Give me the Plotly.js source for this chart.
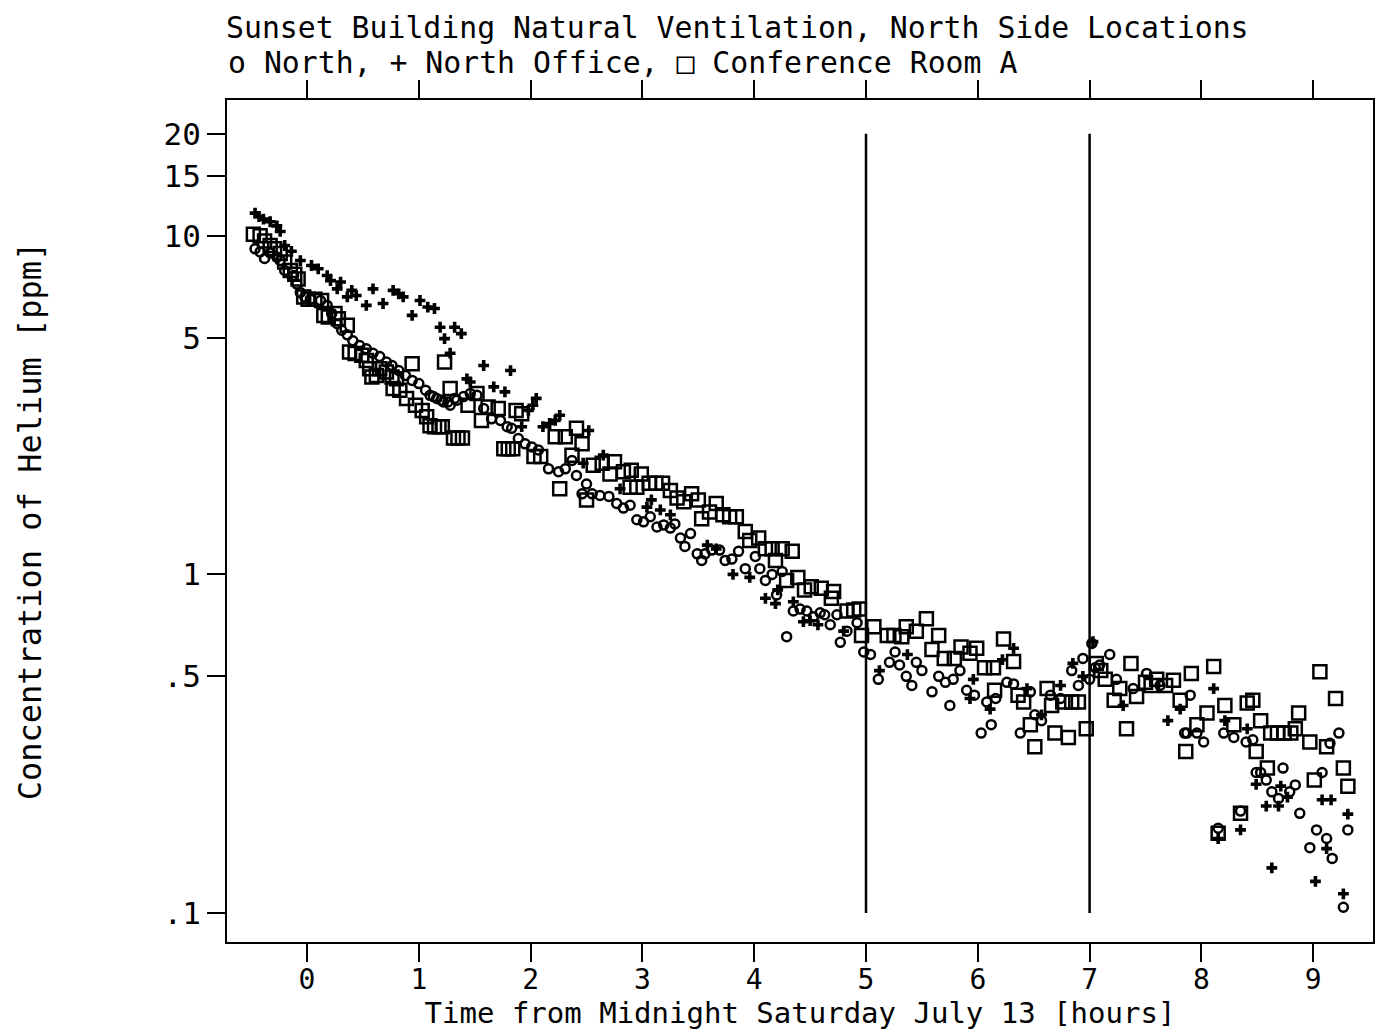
<!DOCTYPE html>
<html>
<head>
<meta charset="utf-8">
<script src="https://cdn.plot.ly/plotly-3.0.1.min.js"></script>
<style>html,body{margin:0;padding:0;background:#fff;}#chart{width:1375px;height:1035px;}</style>
</head>
<body>
<div id="chart"></div>
<script>
// ---- Data (hours from midnight, helium concentration in ppm) ----
const northTime = [-0.465,-0.42,-0.38,-0.33,-0.27,-0.24,-0.20,-0.12,-0.09,-0.06,-0.02,0.03,0.12,0.18,0.22,0.27,0.31,0.36,0.41,0.47,0.53,0.59,0.65,0.71,0.76,0.82,0.88,0.94,1.00,1.06,1.10,1.13,1.16,1.20,1.22,1.26,1.28,1.32,1.34,1.40,1.46,1.52,1.58,1.65,1.73,1.79,1.83,1.89,1.95,2.01,2.07,2.16,2.25,2.31,2.37,2.41,2.46,2.50,2.55,2.62,2.70,2.77,2.83,2.89,2.95,3.01,3.07,3.13,3.19,3.25,3.29,3.34,3.38,3.43,3.49,3.53,3.56,3.62,3.69,3.74,3.80,3.86,3.92,4.01,4.05,4.10,4.16,4.20,4.25,4.29,4.35,4.41,4.47,4.53,4.59,4.63,4.68,4.74,4.77,4.83,4.92,4.98,5.04,5.11,5.21,5.26,5.30,5.36,5.41,5.45,5.50,5.59,5.65,5.71,5.75,5.78,5.84,5.90,5.97,6.03,6.08,6.12,6.16,6.26,6.32,6.38,6.47,6.51,6.57,6.65,6.74,6.84,6.90,6.94,7.00,7.02,7.05,7.09,7.18,7.24,7.39,7.51,7.63,7.85,7.87,7.90,7.96,8.02,8.15,8.20,8.29,8.35,8.40,8.46,8.49,8.53,8.58,8.63,8.69,8.73,8.79,8.84,8.88,8.97,9.03,9.08,9.12,9.15,9.17,9.23,9.27,9.31];
const northValue = [9.15,8.96,8.57,8.9,8.65,8.45,7.9,7.63,7.2,6.8,6.6,6.5,6.44,6.23,5.9,5.5,5.26,5.1,4.9,4.74,4.64,4.5,4.4,4.24,4.14,4.0,3.87,3.74,3.66,3.5,3.38,3.35,3.31,3.27,3.23,3.23,3.16,3.31,3.27,3.35,3.42,3.38,3.09,2.88,2.85,2.73,2.70,2.52,2.43,2.38,2.33,2.05,2.01,2.05,2.17,1.96,1.73,1.85,1.73,1.71,1.70,1.62,1.57,1.60,1.45,1.43,1.48,1.38,1.40,1.37,1.41,1.28,1.21,1.32,1.15,1.10,1.15,1.18,1.18,1.10,1.11,1.17,1.04,1.13,1.04,0.96,1.0,0.87,1.02,0.655,0.78,0.79,0.78,0.75,0.77,0.76,0.71,0.76,0.63,0.68,0.72,0.59,0.58,0.49,0.55,0.59,0.54,0.50,0.47,0.55,0.52,0.45,0.50,0.48,0.41,0.49,0.52,0.455,0.44,0.34,0.42,0.36,0.43,0.48,0.475,0.34,0.45,0.385,0.37,0.44,0.43,0.52,0.47,0.565,0.49,0.625,0.53,0.54,0.58,0.49,0.46,0.51,0.47,0.34,0.34,0.44,0.34,0.32,0.178,0.34,0.33,0.20,0.32,0.325,0.26,0.26,0.247,0.228,0.218,0.268,0.228,0.239,0.197,0.156,0.176,0.26,0.166,0.317,0.145,0.34,0.104,0.176];

const officeTime = [-0.465,-0.43,-0.39,-0.33,-0.27,-0.24,-0.20,-0.14,-0.06,0.04,0.10,0.18,0.21,0.27,0.30,0.36,0.40,0.44,0.53,0.59,0.68,0.77,0.82,0.86,0.94,1.01,1.08,1.14,1.19,1.23,1.28,1.32,1.38,1.43,1.46,1.58,1.67,1.77,1.82,1.92,1.98,2.02,2.05,2.11,2.17,2.22,2.26,2.47,2.52,2.65,2.80,3.04,3.08,3.16,3.25,3.58,3.66,3.81,3.96,4.10,4.19,4.21,4.35,4.44,4.50,4.57,4.80,5.12,5.37,5.93,5.96,6.11,6.22,6.32,6.44,6.57,6.74,6.85,6.94,7.03,7.30,7.70,7.81,8.11,8.15,8.21,8.35,8.41,8.49,8.58,8.63,8.69,8.71,8.77,9.02,9.08,9.12,9.16,9.27,9.31];
const officeValue = [11.67,11.4,11.2,11.0,10.7,10.3,9.36,9.0,8.45,8.17,7.99,7.63,7.37,6.97,7.3,6.6,6.9,6.66,6.23,6.97,6.31,6.9,6.74,6.6,5.82,6.44,6.16,6.1,5.37,4.97,4.5,5.37,5.14,3.78,3.7,4.14,3.58,3.46,4.0,2.73,3.05,3.16,3.31,2.73,2.79,2.85,2.95,2.13,2.66,2.25,1.79,1.58,1.66,1.55,1.50,1.22,1.19,1.0,0.98,0.85,0.82,0.90,0.83,0.725,0.73,0.71,0.68,0.52,0.58,0.43,0.49,0.40,0.56,0.605,0.46,0.385,0.47,0.546,0.50,0.633,0.41,0.37,0.40,0.46,0.166,0.37,0.176,0.35,0.24,0.207,0.136,0.207,0.237,0.22,0.124,0.216,0.155,0.216,0.114,0.196];

const confTime = [-0.48,-0.42,-0.38,-0.33,-0.29,-0.24,-0.20,-0.15,-0.11,-0.08,-0.03,0.01,0.07,0.13,0.15,0.19,0.25,0.28,0.36,0.38,0.43,0.49,0.53,0.56,0.58,0.62,0.65,0.71,0.76,0.77,0.80,0.83,0.89,0.94,0.97,1.03,1.07,1.10,1.14,1.18,1.21,1.23,1.28,1.31,1.35,1.39,1.44,1.52,1.56,1.62,1.71,1.76,1.80,1.84,1.87,1.92,2.03,2.09,2.22,2.26,2.31,2.37,2.41,2.46,2.50,2.56,2.64,2.71,2.75,2.83,2.89,2.90,2.95,2.99,3.06,3.12,3.18,3.25,3.31,3.37,3.44,3.50,3.53,3.60,3.66,3.72,3.78,3.84,3.92,3.96,4.04,4.10,4.16,4.19,4.25,4.29,4.34,4.39,4.45,4.51,4.60,4.69,4.71,4.83,4.89,4.94,4.96,5.07,5.19,5.25,5.32,5.36,5.45,5.54,5.59,5.65,5.70,5.79,5.85,5.93,5.99,6.06,6.14,6.15,6.23,6.32,6.36,6.41,6.47,6.51,6.62,6.66,6.69,6.76,6.81,6.84,6.90,6.97,7.06,7.10,7.14,7.22,7.27,7.33,7.37,7.42,7.50,7.55,7.60,7.68,7.75,7.81,7.86,7.91,7.96,8.05,8.11,8.15,8.21,8.29,8.35,8.41,8.46,8.49,8.53,8.59,8.62,8.68,8.74,8.80,8.84,8.87,8.97,9.01,9.06,9.12,9.20,9.27,9.31];
const confValue = [10.1,10.0,9.66,9.36,9.15,8.86,8.37,7.9,7.7,7.45,6.6,6.5,6.5,6.44,5.82,5.76,5.9,5.69,5.44,4.54,4.49,4.44,4.28,4.05,3.83,3.87,4.05,3.96,3.83,3.54,3.78,3.5,3.31,4.19,3.16,3.05,2.92,2.75,2.73,2.73,2.73,4.24,3.54,2.53,2.53,2.53,3.16,3.42,2.85,3.12,3.09,2.35,2.35,2.35,3.05,2.98,2.23,2.23,2.55,1.79,2.55,2.25,2.70,2.43,1.66,2.10,2.13,1.98,2.15,2.01,1.81,2.03,1.81,1.98,1.86,1.86,1.86,1.77,1.68,1.64,1.73,1.66,1.46,1.53,1.62,1.50,1.48,1.48,1.34,1.26,1.28,1.19,1.19,1.10,1.19,0.96,1.17,0.98,0.90,0.92,0.91,0.85,0.89,0.78,0.785,0.79,0.66,0.70,0.66,0.66,0.655,0.70,0.68,0.74,0.60,0.66,0.565,0.565,0.61,0.585,0.605,0.53,0.53,0.455,0.645,0.553,0.44,0.42,0.36,0.31,0.46,0.41,0.34,0.42,0.33,0.42,0.42,0.35,0.546,0.52,0.49,0.425,0.46,0.35,0.546,0.436,0.48,0.47,0.49,0.47,0.487,0.425,0.30,0.51,0.36,0.39,0.535,0.172,0.41,0.36,0.197,0.417,0.425,0.30,0.37,0.268,0.34,0.34,0.34,0.34,0.35,0.39,0.32,0.247,0.516,0.31,0.43,0.268,0.237];

// Reference (vertical) lines marking two times, spanning the plotted concentration scale
const refLineTimes = [5, 7];
const refLineSpan = [0.1, 20];

// Axis ticks
const xTickVals = [0,1,2,3,4,5,6,7,8,9];
const xTickText = ['0','1','2','3','4','5','6','7','8','9'];
const yTickVals = [0.1,0.5,1,5,10,15,20];
const yTickText = ['.1','.5','1','5','10','15','20'];

const titleLine1 = 'Sunset Building Natural Ventilation, North Side Locations';
const titleLine2 = 'o North, + North Office, \u25A1 Conference Room A';
const xTitle = 'Time from Midnight Saturday July 13 [hours]';
const yTitle = 'Concentration of Helium [ppm]';

// ---- Traces ----
const FONT = 'DejaVu Sans Mono, Liberation Mono, monospace';
const traces = [
  {x: northTime, y: northValue, type:'scatter', mode:'markers', name:'North',
   marker:{symbol:'circle-open', size:9, color:'black', line:{width:2.5, color:'black'}}},
  {x: officeTime, y: officeValue, type:'scatter', mode:'markers', name:'North Office',
   marker:{symbol:'cross', size:9, color:'black', line:{width:0}}},
  {x: confTime, y: confValue, type:'scatter', mode:'markers', name:'Conference Room A',
   marker:{symbol:'square-open', size:13, color:'black', line:{width:2.5, color:'black'}}}
];
refLineTimes.forEach(t => {
  traces.push({x:[t,t], y:refLineSpan, type:'scatter', mode:'lines',
    line:{color:'black', width:2.5}, hoverinfo:'skip', showlegend:false});
});

const layout = {
  width:1375, height:1035,
  margin:{l:227, r:2, t:100, b:93, pad:0},
  paper_bgcolor:'white', plot_bgcolor:'white',
  showlegend:false,
  font:{family:FONT, size:30, color:'black'},
  title:{text:titleLine1, xref:'container', yref:'container', x:226/1375, xanchor:'left',
         y:1-28/1035, yanchor:'middle', font:{family:FONT, size:29.8, color:'black'}},
  annotations:[{text:titleLine2, xref:'paper', yref:'paper', x:-0.001, xanchor:'left',
                y:(942-62)/842, yanchor:'middle', showarrow:false,
                font:{family:FONT, size:29.8, color:'black'}}],
  xaxis:{range:[-0.716, 9.535], tickvals:xTickVals, ticktext:xTickText,
         ticks:'outside', ticklen:18, tickwidth:2, tickcolor:'black',
         showline:true, linewidth:2, linecolor:'black', mirror:'ticks',
         showgrid:false, zeroline:false, ticklabelstandoff:-7,
         tickfont:{family:FONT, size:28, color:'black'},
         title:{text:xTitle, standoff:0, font:{family:FONT, size:29, color:'black'}}},
  yaxis:{type:'log', range:[-1.0855, 1.401], tickvals:yTickVals, ticktext:yTickText,
         ticks:'outside', ticklen:18, tickwidth:2, tickcolor:'black',
         showline:true, linewidth:2, linecolor:'black', mirror:'ticks',
         showgrid:false, zeroline:false,
         tickfont:{family:FONT, size:31, color:'black'},
         title:{text:yTitle, standoff:112, font:{family:FONT, size:32, color:'black'}}}
};

Plotly.newPlot('chart', traces, layout, {staticPlot:true, displayModeBar:false});
</script>
</body>
</html>
